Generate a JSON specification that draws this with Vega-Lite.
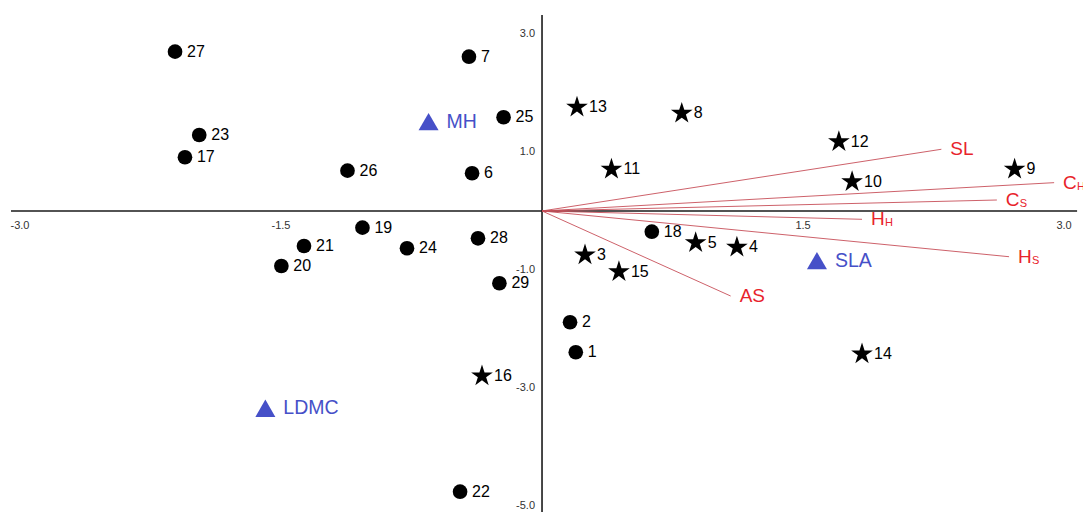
{
  "$schema": "https://vega.github.io/schema/vega-lite/v6.json",
  "width": 1083,
  "height": 512,
  "autosize": {"type": "none"},
  "padding": 0,
  "background": "white",
  "config": {"view": {"stroke": null}, "font": "Liberation Sans"},
  "datasets": {
    "sites": [
      {"id": "1", "group": "I", "x": 0.194, "y": -2.395},
      {"id": "2", "group": "I", "x": 0.161, "y": -1.886},
      {"id": "3", "group": "II", "x": 0.247, "y": -0.746},
      {"id": "4", "group": "II", "x": 1.12, "y": -0.615},
      {"id": "5", "group": "II", "x": 0.883, "y": -0.537},
      {"id": "6", "group": "I", "x": -0.402, "y": 0.639},
      {"id": "7", "group": "I", "x": -0.42, "y": 2.615},
      {"id": "8", "group": "II", "x": 0.803, "y": 1.656},
      {"id": "9", "group": "II", "x": 2.716, "y": 0.707},
      {"id": "10", "group": "II", "x": 1.782, "y": 0.497},
      {"id": "11", "group": "II", "x": 0.399, "y": 0.707},
      {"id": "12", "group": "II", "x": 1.706, "y": 1.175},
      {"id": "13", "group": "II", "x": 0.201, "y": 1.758},
      {"id": "14", "group": "II", "x": 1.839, "y": -2.424},
      {"id": "15", "group": "II", "x": 0.442, "y": -1.029},
      {"id": "16", "group": "II", "x": -0.345, "y": -2.797},
      {"id": "17", "group": "I", "x": -2.052, "y": 0.91},
      {"id": "18", "group": "I", "x": 0.631, "y": -0.351},
      {"id": "19", "group": "I", "x": -1.032, "y": -0.283},
      {"id": "20", "group": "I", "x": -1.498, "y": -0.932},
      {"id": "21", "group": "I", "x": -1.368, "y": -0.593},
      {"id": "22", "group": "I", "x": -0.471, "y": -4.758},
      {"id": "23", "group": "I", "x": -1.97, "y": 1.288},
      {"id": "24", "group": "I", "x": -0.776, "y": -0.632},
      {"id": "25", "group": "I", "x": -0.221, "y": 1.588},
      {"id": "26", "group": "I", "x": -1.118, "y": 0.683},
      {"id": "27", "group": "I", "x": -2.109, "y": 2.7},
      {"id": "28", "group": "I", "x": -0.368, "y": -0.463},
      {"id": "29", "group": "I", "x": -0.245, "y": -1.225}
    ],
    "traits": [
      {"trait": "MH", "x": -0.652, "y": 1.514},
      {"trait": "SLA", "x": 1.58, "y": -0.842},
      {"trait": "LDMC", "x": -1.59, "y": -3.344}
    ],
    "vectors": [
      {"main": "SL", "sub": "", "x0": 0, "y0": 0, "x": 2.295, "y": 1.046},
      {"main": "C", "sub": "H", "x0": 0, "y0": 0, "x": 2.943, "y": 0.48},
      {"main": "C", "sub": "S", "x0": 0, "y0": 0, "x": 2.614, "y": 0.186},
      {"main": "H", "sub": "H", "x0": 0, "y0": 0, "x": 1.839, "y": -0.141},
      {"main": "H", "sub": "S", "x0": 0, "y0": 0, "x": 2.684, "y": -0.775},
      {"main": "AS", "sub": "", "x0": 0, "y0": 0, "x": 1.084, "y": -1.441}
    ],
    "axes": [
      {"axis": "x", "x": -3.052, "y": 0, "x2": 3.075, "y2": 0},
      {"axis": "y", "x": 0, "y": 3.322, "x2": 0, "y2": -5.102}
    ],
    "xticks": [
      {"x": -3.0, "y": 0, "label": "-3.0"},
      {"x": -1.5, "y": 0, "label": "-1.5"},
      {"x": 1.5, "y": 0, "label": "1.5"},
      {"x": 3.0, "y": 0, "label": "3.0"}
    ],
    "yticks": [
      {"x": 0, "y": 3.0, "label": "3.0"},
      {"x": 0, "y": 1.0, "label": "1.0"},
      {"x": 0, "y": -1.0, "label": "-1.0"},
      {"x": 0, "y": -3.0, "label": "-3.0"},
      {"x": 0, "y": -5.0, "label": "-5.0"}
    ]
  },
  "encoding": {
    "x": {"field": "x", "type": "quantitative", "axis": null,
          "scale": {"domain": [-3.115, 3.109], "nice": false, "zero": false}},
    "y": {"field": "y", "type": "quantitative", "axis": null,
          "scale": {"domain": [-5.102, 3.576], "nice": false, "zero": false}}
  },
  "layer": [
    {
      "data": {"name": "axes"},
      "mark": {"type": "rule", "color": "#1a1a1a", "strokeWidth": 1.6},
      "encoding": {
        "x2": {"field": "x2"},
        "y2": {"field": "y2"}
      }
    },
    {
      "data": {"name": "xticks"},
      "mark": {"type": "text", "fontSize": 11, "color": "#333333", "dy": 15, "align": "center", "baseline": "middle"},
      "encoding": {"text": {"field": "label"}}
    },
    {
      "data": {"name": "yticks"},
      "mark": {"type": "text", "fontSize": 11, "color": "#333333", "dx": -7, "align": "right", "baseline": "middle"},
      "encoding": {"text": {"field": "label"}}
    },
    {
      "data": {"name": "vectors"},
      "mark": {"type": "rule", "color": "#c8505a", "strokeWidth": 1, "opacity": 0.9},
      "encoding": {
        "x": {"field": "x0", "type": "quantitative"},
        "y": {"field": "y0", "type": "quantitative"},
        "x2": {"field": "x"},
        "y2": {"field": "y"}
      }
    },
    {
      "data": {"name": "vectors"},
      "mark": {"type": "text", "fontSize": 19, "color": "#e8232b", "dx": 9, "align": "left", "baseline": "middle"},
      "encoding": {"text": {"field": "main"}}
    },
    {
      "data": {"name": "vectors"},
      "mark": {"type": "text", "fontSize": 11, "color": "#e8232b", "dx": 23, "dy": 4, "align": "left", "baseline": "middle"},
      "encoding": {"text": {"field": "sub"}}
    },
    {
      "data": {"name": "sites"},
      "mark": {"type": "point", "filled": true, "color": "black", "opacity": 1},
      "encoding": {
        "shape": {"field": "group", "type": "nominal", "legend": null,
                  "scale": {"domain": ["I", "II"], "range": ["circle", "M0,-1L0.2245,-0.309L0.9511,-0.309L0.3633,0.118L0.5878,0.809L0,0.382L-0.5878,0.809L-0.3633,0.118L-0.9511,-0.309L-0.2245,-0.309Z"]}},
        "size": {"field": "group", "type": "nominal", "legend": null,
                 "scale": {"domain": ["I", "II"], "range": [215, 520]}}
      }
    },
    {
      "data": {"name": "sites"},
      "mark": {"type": "text", "fontSize": 16, "color": "black", "dx": 12, "align": "left", "baseline": "middle"},
      "encoding": {"text": {"field": "id"}}
    },
    {
      "data": {"name": "traits"},
      "mark": {"type": "point", "shape": "triangle-up", "filled": true, "color": "#4650c8", "opacity": 1, "size": 400}
    },
    {
      "data": {"name": "traits"},
      "mark": {"type": "text", "fontSize": 19.5, "color": "#4650c8", "dx": 18, "align": "left", "baseline": "middle"},
      "encoding": {"text": {"field": "trait"}}
    }
  ]
}
